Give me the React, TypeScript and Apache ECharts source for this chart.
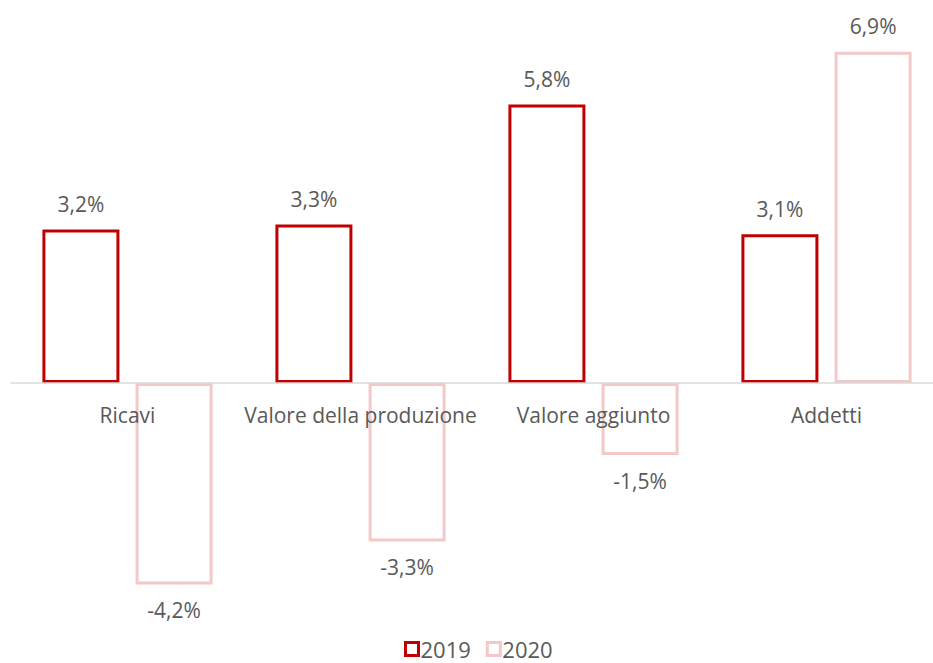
import React, { useEffect, useRef } from "react";
import * as echarts from "echarts";

const categories = ["Ricavi", "Valore della produzione", "Valore aggiunto", "Addetti"];
const values2019 = [3.2, 3.3, 5.8, 3.1];
const values2020 = [-4.2, -3.3, -1.5, 6.9];
const seriesNames = ["2019", "2020"];

const FONT = "Open Sans";
const TEXT = "#595959";

function fmt(v: number) {
  return v.toFixed(1).replace(".", ",") + "%";
}

function toData(vals: number[]) {
  return vals.map((v) => ({
    value: v,
    label: { position: v >= 0 ? "top" : "bottom" },
  }));
}

export default function App() {
  const ref = useRef<HTMLDivElement>(null);
  useEffect(() => {
    if (!ref.current) return;
    const chart = echarts.init(ref.current, undefined, { renderer: "svg" });
    const mk = (name: string, vals: number[], color: string) => ({
      name,
      type: "bar",
      z: 2,
      data: toData(vals),
      barWidth: 77,
      barGap: "21%",
      itemStyle: { color: "#ffffff", borderColor: color, borderWidth: 3 },
      label: {
        show: true,
        distance: 15,
        formatter: (p: any) => fmt(p.value),
        color: TEXT,
        fontFamily: FONT,
        fontSize: 21,
      },
    });
    chart.setOption({
      animation: false,
      backgroundColor: "#ffffff",
      grid: { left: 11, width: 932, top: 23, height: 600, containLabel: false },
      legend: {
        bottom: 3,
        left: 404,
        padding: 0,
        itemWidth: 13,
        itemHeight: 13,
        itemGap: 15,
        icon: "rect",
        itemStyle: { borderWidth: 3 },
        textStyle: {
          color: TEXT,
          fontFamily: FONT,
          fontSize: 22,
          lineHeight: 18,
          padding: [0, 0, 0, -3],
        },
        data: seriesNames,
      },
      xAxis: {
        type: "category",
        data: categories,
        offset: -240,
        z: 10,
        axisLine: { onZero: false, lineStyle: { color: "#D9D9D9", width: 1.5 } },
        axisTick: { show: false },
        axisLabel: { color: TEXT, fontFamily: FONT, fontSize: 21, margin: 21, interval: 0 },
      },
      yAxis: {
        type: "value",
        min: -5,
        max: 7.5,
        show: false,
        splitLine: { show: false },
      },
      series: [
        mk(seriesNames[0], values2019, "#C00000"),
        mk(seriesNames[1], values2020, "#F2C8C8"),
      ],
    });
    return () => chart.dispose();
  }, []);
  return (
    <div
      style={{
        width: 933,
        height: 663,
        position: "absolute",
        left: 0,
        top: 0,
        overflow: "hidden",
        background: "#ffffff",
      }}
    >
      <div ref={ref} style={{ width: 945, height: 663 }} />
    </div>
  );
}
